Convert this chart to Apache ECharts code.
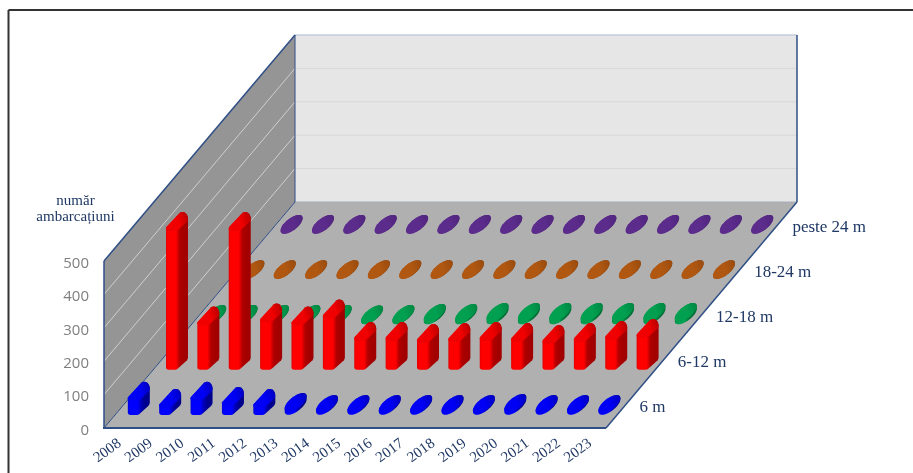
<!DOCTYPE html>
<html>
<head>
<meta charset="utf-8">
<style>html,body{margin:0;padding:0;background:#fff}#chart{width:913px;height:473px}</style>
<script src="https://cdn.jsdelivr.net/npm/echarts@6/dist/echarts.min.js"></script>
</head>
<body>
<div id="chart"></div>
<script>
const years = ['2008','2009','2010','2011','2012','2013','2014','2015','2016','2017','2018','2019','2020','2021','2022','2023'];
const lengthClasses = ['6 m','6-12 m','12-18 m','18-24 m','peste 24 m'];
const valueTicks = [0,100,200,300,400,500];
const boats6m    = [42,21,42,27,21,9,3,3,3,3,3,3,6,3,3,3];
const boats6to12 = [415,132,415,141,132,153,86,86,80,83,86,83,77,83,89,95];
const boats12to18= [2,2,2,2,2,1,2,5,5,8,8,8,8,8,8,8];
const boats18to24= [1,1,1,1,1,1,1,1,1,1,1,1,1,1,1,1];
const boatsOver24= [1,1,1,1,1,1,1,1,1,1,1,1,1,1,1,1];
const rowSeries = [boats6m, boats6to12, boats12to18, boats18to24, boatsOver24];

// Oblique projection: one step along the length-class axis moves the point by this vector.
const DEPTH_X = 38.2, DEPTH_Y = 45.2;
const NAVY = '#1f3864';
const SERIF = '"Liberation Serif", serif';

const palette = [
  {body:['#0000d8','#0000ff','#0000ff','#0000b0','#00008c','#00008c'], top:['#0000f4','#0000c4']},
  {body:['#e40000','#ff0000','#ff0000','#b00000','#a40000','#a00000'], top:['#f00000','#bc0000']},
  {body:['#008a44','#00a050','#00a050','#007a3c','#006c34','#006c34'], top:['#00a050','#008a44']},
  {body:['#a04c0c','#b05510','#b05510','#8c440c','#84400c','#84400c'], top:['#b05812','#9c4c0e']},
  {body:['#542680','#5c2c8c','#5c2c8c','#4c2274','#482070','#482070'], top:['#5c2c8c','#522680']}
];

function hull(pts) {
  const p = pts.slice().sort((a,b)=>a[0]-b[0]||a[1]-b[1]);
  const cross = (o,a,b)=>(a[0]-o[0])*(b[1]-o[1])-(a[1]-o[1])*(b[0]-o[0]);
  const lo=[],up=[];
  for (const q of p){ while(lo.length>1&&cross(lo[lo.length-2],lo[lo.length-1],q)<=0) lo.pop(); lo.push(q); }
  for (const q of p.slice().reverse()){ while(up.length>1&&cross(up[up.length-2],up[up.length-1],q)<=0) up.pop(); up.push(q); }
  return lo.slice(0,-1).concat(up.slice(0,-1));
}

// Corner circles [x, y, radius] of a full-height bar's cross-section, relative to its centre.
const TALL_CORNERS = [[-8.5,7,2.5],[-2,5,4.5],[6,-3,5],[5.5,-4.5,5]];
// Cross-section of a very low bar: a tilted ellipse.
const FLAT_SEMI_A = 13.2, FLAT_SEMI_B = 5.8, FLAT_TILT = 38*Math.PI/180;

function footprint(cx, cy, h) {
  const pts = [];
  if (h < 5) {
    const ct=Math.cos(FLAT_TILT), st=Math.sin(FLAT_TILT);
    for (let k=0;k<48;k++){
      const a=k/48*Math.PI*2, u=FLAT_SEMI_A*Math.cos(a), v=FLAT_SEMI_B*Math.sin(a);
      pts.push([cx+u*ct-v*st, cy-u*st-v*ct]);
    }
    return hull(pts);
  }
  TALL_CORNERS.forEach(c=>{
    for (let k=0;k<20;k++){
      const a=k/20*Math.PI*2;
      pts.push([cx+c[0]+c[2]*Math.cos(a), cy+c[1]+c[2]*Math.sin(a)]);
    }
  });
  return hull(pts);
}

function barRenderer(row) {
  return function (params, api) {
    const base = api.coord([api.value(0), 0]);
    const tip = api.coord([api.value(0), api.value(1)]);
    const cx = base[0] + (row+0.5)*DEPTH_X, cy = base[1] - (row+0.5)*DEPTH_Y;
    const h = base[1]-tip[1];
    const bottom = footprint(cx,cy,h), top = footprint(cx,cy-h,h);
    const c = palette[row];
    const stops=[0,0.1,0.45,0.62,0.8,1];
    return {type:'group',children:[
      {type:'polygon',shape:{points:hull(bottom.concat(top))},
       style:{fill:{type:'linear',x:0,y:0,x2:1,y2:0,colorStops:stops.map((o,i)=>({offset:o,color:c.body[i]}))}}},
      {type:'polygon',shape:{points:top},
       style:{fill:{type:'linear',x:0,y:0.7,x2:1,y2:0.3,colorStops:[{offset:0,color:c.top[0]},{offset:0.55,color:c.top[0]},{offset:1,color:c.top[1]}]}}}
    ]};
  };
}

function renderBox(params, api) {
  const r = params.coordSys, L=r.x, R=r.x+r.width, B=r.y+r.height, T=r.y;
  const sx = 5*DEPTH_X, sy = 5*DEPTH_Y;
  const ch = [];
  const poly=(pts,fill)=>ch.push({type:'polygon',shape:{points:pts},style:{fill}});
  const line=(a,b,stroke,w)=>ch.push({type:'line',shape:{x1:a[0],y1:a[1],x2:b[0],y2:b[1]},style:{stroke,lineWidth:w}});
  poly([[L+sx,T-sy],[R+sx,T-sy],[R+sx,B-sy],[L+sx,B-sy]],'#e6e6e6');
  poly([[L,T],[L+sx,T-sy],[L+sx,B-sy],[L,B]],'#959595');
  poly([[L,B],[R,B],[R+sx,B-sy],[L+sx,B-sy]],'#b0b0b0');
  valueTicks.slice(1,-1).forEach(v=>{
    const y=api.coord([0,v])[1];
    line([L,y],[L+sx,y-sy],'#cfcfcf',1);
    line([L+sx,y-sy],[R+sx,y-sy],'#d8d8d8',1);
  });
  line([L+sx,T-sy],[R+sx,T-sy],'#c6cde0',1.5);
  line([L+sx,B-sy],[R+sx,B-sy],'#a8aebc',1);
  line([L,T],[L+sx,T-sy],'#2f4f86',1.5);
  line([L+sx,T-sy],[L+sx,B-sy],'#2f4f86',1);
  line([R+sx,T-sy],[R+sx,B-sy],'#2f4f86',1.5);
  line([L,T],[L,B],'#2f4f86',1.5);
  line([L,B],[L+sx,B-sy],'#2f4f86',1);
  line([R,B],[R+sx,B-sy],'#2f4f86',1.5);
  line([L-1,B],[R,B],'#2f4f86',2);
  lengthClasses.forEach((name,i)=>{
    ch.push({type:'text',style:{text:name,x:R+(i+0.5)*DEPTH_X+14.5,y:B-(i+0.5)*DEPTH_Y+2.5,
      fill:NAVY,font:'17px '+SERIF,textAlign:'left',textVerticalAlign:'middle'}});
  });
  return {type:'group',children:ch};
}

const series = [{type:'custom',name:'box',silent:true,z:1,data:[[0,0]],renderItem:renderBox}];
rowSeries.slice().reverse().forEach((vals,idx)=>{
  const row = rowSeries.length-1-idx;
  series.push({type:'custom',name:lengthClasses[row],z:2+idx,silent:true,
    data:vals.map((v,i)=>[i,v]),renderItem:barRenderer(row)});
});

const chart = echarts.init(document.getElementById('chart'),null,{renderer:'canvas'});
chart.setOption({
  animation:false,
  backgroundColor:'#ffffff',
  title:{text:'număr\nambarcațiuni',left:70.5,top:188.5,textAlign:'center',
    textStyle:{fontFamily:SERIF,fontSize:15,fontWeight:'normal',color:NAVY,lineHeight:16}},
  graphic:[
    {type:'line',shape:{x1:8.5,y1:10,x2:913,y2:10},style:{stroke:'#333333',lineWidth:2}},
    {type:'line',shape:{x1:8.5,y1:10,x2:8.5,y2:473},style:{stroke:'#333333',lineWidth:2}}
  ],
  grid:{left:104,top:261,width:502,height:167},
  xAxis:{type:'category',data:years,axisLine:{show:false},axisTick:{show:false},splitLine:{show:false},
    axisLabel:{interval:0,rotate:36,margin:14,fontFamily:SERIF,fontSize:15,color:NAVY}},
  yAxis:{type:'value',min:0,max:500,interval:100,axisLine:{show:false},axisTick:{show:false},splitLine:{show:false},
    axisLabel:{margin:15,verticalAlign:'top',padding:[-5,0,0,0],fontFamily:'"Open Sans", sans-serif',fontSize:15,color:'#7f7f7f'}},
  series
});
</script>
</body>
</html>
